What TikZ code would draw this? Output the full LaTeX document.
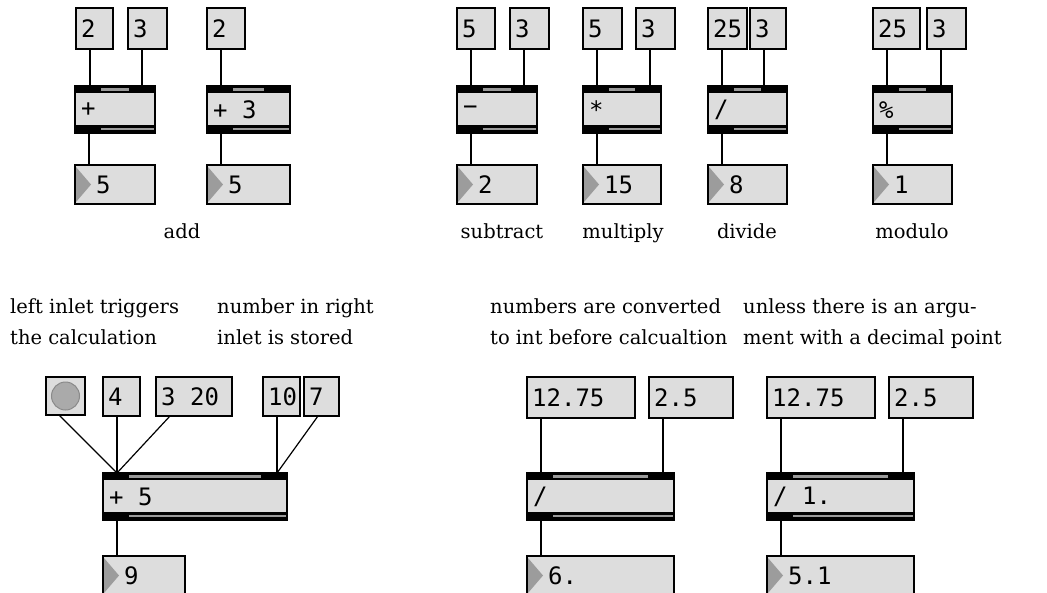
\documentclass[tikz,border=0pt]{standalone}
\usepackage{fontspec}
\newfontfamily\labfont{DejaVu Serif}
\newfontfamily\monofont{DejaVu Sans Mono}
\definecolor{boxgray}{HTML}{DDDDDD}
\definecolor{bargray}{HTML}{9A9A9A}
\definecolor{trigray}{HTML}{9C9C9C}
\definecolor{bangfill}{HTML}{AAAAAA}
\definecolor{bangedge}{HTML}{8A8A8A}
\tikzset{
  pbox/.style={draw=black, line width=1.6pt, fill=boxgray, anchor=north west, inner sep=0pt, outer sep=0pt},
  mtxt/.style={font=\monofont\fontsize{24}{28}\selectfont, inner sep=0pt, anchor=west},
  cord/.style={line width=1.5pt},
  thincord/.style={line width=1.2pt},
  lab/.style={font=\labfont\fontsize{19.5}{23}\selectfont, inner sep=0pt, anchor=base west},
  clab/.style={lab, anchor=base},
}
% name x y w h text
\newcommand\msgbox[6]{%
  \node[pbox, minimum width=#4pt, minimum height=#5pt] (#1) at (#2,#3) {};
  \node[mtxt] (#1-t) at ([xshift=5pt]#1.west) {#6};
  \coordinate (#1-o) at ([xshift=14pt]#1.south west);}
\newcommand\outbox[6]{%
  \node[pbox, minimum width=#4pt, minimum height=#5pt] (#1) at (#2,#3) {};
  \fill[trigray] ([xshift=1pt,yshift=-2pt]#1.north west) -- ([xshift=16pt,yshift={(#5pt-39pt)/2}]#1.west) -- ([xshift=1pt,yshift={(#5pt-39pt)+2pt}]#1.south west) -- cycle;
  \node[mtxt] (#1-t) at ([xshift=21pt,yshift={(#5pt-39pt)/2}]#1.west) {#6};}
% name x y w text
\newcommand\objbox[5]{%
  \node[pbox, minimum width=#4pt, minimum height=47pt] (#1) at (#2,#3) {};
  \fill[black] (#1.north west) rectangle ([yshift=-7pt]#1.north east);
  \fill[bargray] ([xshift=26pt,yshift=-2.2pt]#1.north west) rectangle ([xshift=-26pt,yshift=-4.8pt]#1.north east);
  \fill[black] ([yshift=8pt]#1.south west) rectangle (#1.south east);
  \fill[bargray] ([xshift=26pt,yshift=5.2pt]#1.south west) rectangle ([xshift=-1pt,yshift=2.6pt]#1.south east);
  \node[mtxt] (#1-t) at ([xshift=6pt,yshift=-0.5pt]#1.west) {#5};
  \coordinate (#1-l) at ([xshift=14pt]#1.north west);
  \coordinate (#1-o) at ([xshift=14pt]#1.south west);}
\begin{document}
\begin{tikzpicture}[x=1pt,y=-1pt]
\useasboundingbox (0,0) rectangle (1047,592);
\clip (0,0) rectangle (1047,592);
\fill[white] (0,0) rectangle (1047,592);

% ---- row 1 ----
\msgbox{a1}{76}{8}{37}{41}{2}
\msgbox{a2}{128}{8}{39}{41}{3}
\objbox{oa}{75}{86}{80}{+}
\outbox{na}{75}{165}{80}{39}{5}
\draw[cord] (a1-o) -- (a1-o |- oa.north);
\draw[cord] (a2-o) -- (a2-o |- oa.north);
\draw[cord] (oa-o) -- (oa-o |- na.north);

\msgbox{b1}{207}{8}{38}{41}{2}
\objbox{ob}{207}{86}{83}{+ 3}
\outbox{nb}{207}{165}{83}{39}{5}
\draw[cord] (b1-o) -- (b1-o |- ob.north);
\draw[cord] (ob-o) -- (ob-o |- nb.north);

\msgbox{c1}{457}{8}{38}{41}{5}
\msgbox{c2}{510}{8}{39}{41}{3}
\objbox{oc}{457}{86}{80}{−}
\outbox{nc}{457}{165}{80}{39}{2}
\draw[cord] (c1-o) -- (c1-o |- oc.north);
\draw[cord] (c2-o) -- (c2-o |- oc.north);
\draw[cord] (oc-o) -- (oc-o |- nc.north);

\msgbox{d1}{583}{8}{39}{41}{5}
\msgbox{d2}{636}{8}{39}{41}{3}
\objbox{od}{583}{86}{78}{*}
\outbox{nd}{583}{165}{78}{39}{15}
\draw[cord] (d1-o) -- (d1-o |- od.north);
\draw[cord] (d2-o) -- (d2-o |- od.north);
\draw[cord] (od-o) -- (od-o |- nd.north);

\msgbox{e1}{708}{8}{39}{41}{25}
\msgbox{e2}{750}{8}{36}{41}{3}
\objbox{oe}{708}{86}{79}{/}
\outbox{ne}{708}{165}{79}{39}{8}
\draw[cord] (e1-o) -- (e1-o |- oe.north);
\draw[cord] (e2-o) -- (e2-o |- oe.north);
\draw[cord] (oe-o) -- (oe-o |- ne.north);

\msgbox{f1}{873}{8}{47}{41}{25}
\msgbox{f2}{927}{8}{39}{41}{3}
\objbox{of}{873}{86}{79}{\%}
\outbox{nf}{873}{165}{79}{39}{1}
\draw[cord] (f1-o) -- (f1-o |- of.north);
\draw[cord] (f2-o) -- (f2-o |- of.north);
\draw[cord] (of-o) -- (of-o |- nf.north);

\node[clab] (l1) at (182,238) {add};
\node[clab] (l2) at (502,238) {subtract};
\node[clab] (l3) at (623,238) {multiply};
\node[clab] (l4) at (747,238) {divide};
\node[clab] (l5) at (912,238) {modulo};

% ---- row 2 text ----
\node[lab] (t1) at (10,313) {left inlet triggers};
\node[lab] (t2) at (10,344) {the calculation};
\node[lab] (t3) at (217,313) {number in right};
\node[lab] (t4) at (217,344) {inlet is stored};
\node[lab] (t5) at (490,313) {numbers are converted};
\node[lab] (t6) at (490,344) {to int before calcualtion};
\node[lab] (t7) at (743,313) {unless there is an argu-};
\node[lab] (t8) at (743,344) {ment with a decimal point};

% ---- row 3 ----
\node[pbox, minimum width=39pt, minimum height=38pt] (bang) at (46,377) {};
\fill[bangfill, draw=bangedge, line width=1pt] (bang.center) circle (14pt);
\coordinate (bang-o) at ([xshift=13pt]bang.south west);
\msgbox{g1}{103}{377}{37}{39}{4}
\msgbox{g2}{156}{377}{76}{39}{3 20}
\msgbox{g3}{263}{377}{37}{39}{10}
\msgbox{g4}{304}{377}{35}{39}{7}
\objbox{og}{103}{473}{184}{+ 5}
\outbox{ng}{103}{556}{82}{44}{9}
\draw[thincord] (bang-o) -- (og-l);
\draw[cord] (g1-o) -- (g1-o |- og.north);
\draw[thincord] (g2-o) -- (og-l);
\draw[cord] (g3-o) -- (g3-o |- og.north);
\draw[thincord] (g4-o) -- (g3-o |- og.north);
\draw[cord] (og-o) -- (og-o |- ng.north);

\msgbox{h1}{527}{377}{108}{41}{12.75}
\msgbox{h2}{649}{377}{84}{41}{2.5}
\objbox{oh}{527}{473}{147}{/}
\outbox{nh}{527}{556}{147}{44}{6.}
\draw[cord] (h1-o) -- (h1-o |- oh.north);
\draw[cord] (h2-o) -- (h2-o |- oh.north);
\draw[cord] (oh-o) -- (oh-o |- nh.north);

\msgbox{i1}{767}{377}{108}{41}{12.75}
\msgbox{i2}{889}{377}{84}{41}{2.5}
\objbox{oi}{767}{473}{147}{/ 1.}
\outbox{ni}{767}{556}{147}{44}{5.1}
\draw[cord] (i1-o) -- (i1-o |- oi.north);
\draw[cord] (i2-o) -- (i2-o |- oi.north);
\draw[cord] (oi-o) -- (oi-o |- ni.north);
\end{tikzpicture}
\end{document}
